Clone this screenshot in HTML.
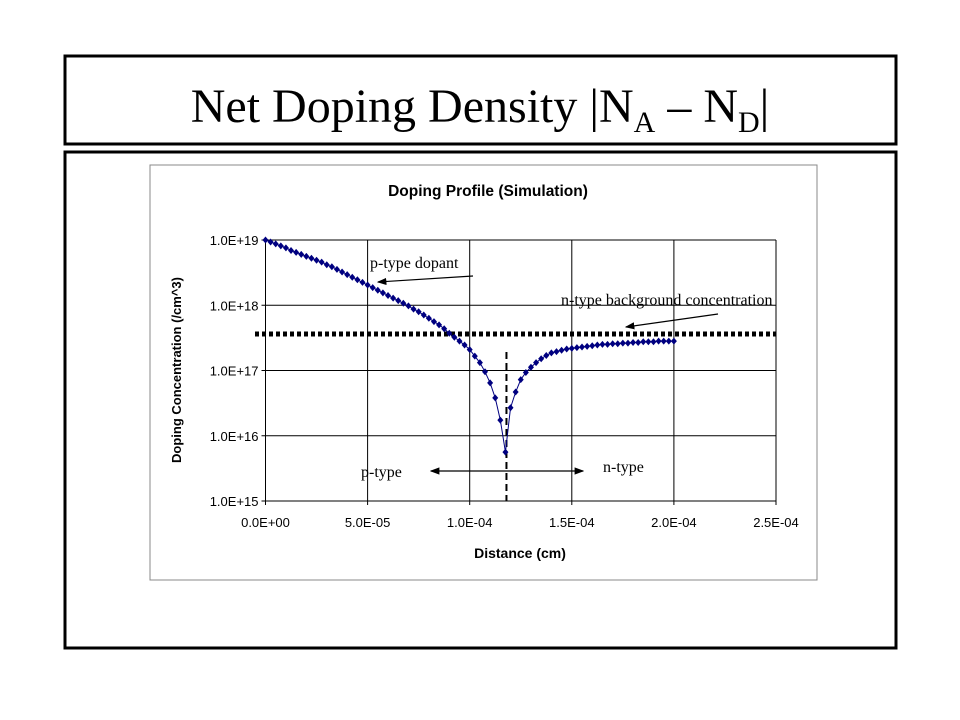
<!DOCTYPE html>
<html><head><meta charset="utf-8"><style>
body{margin:0;background:#fff;}
svg{display:block;}
.tk{font-family:"Liberation Sans",sans-serif;font-size:13px;fill:#000;}
.ann{font-family:"Liberation Serif",serif;font-size:16px;fill:#000;}
</style></head><body>
<svg id="slide" width="960" height="720" viewBox="0 0 960 720" xmlns="http://www.w3.org/2000/svg">
<defs><marker id="ah" markerWidth="8" markerHeight="8" refX="7" refY="4" orient="auto"><path d="M0,1 L8,4 L0,7 Z" fill="#000"/></marker></defs>
<rect x="65" y="56" width="831" height="88" fill="none" stroke="#000" stroke-width="3"/>
<text x="480" y="122" text-anchor="middle" font-family="Liberation Serif,serif" font-size="48">Net Doping Density |N<tspan font-size="30" dy="10">A</tspan><tspan dy="-10"> – N</tspan><tspan font-size="30" dy="10">D</tspan><tspan dy="-10">|</tspan></text>
<rect x="65" y="152" width="831" height="496" fill="none" stroke="#000" stroke-width="3"/>
<rect x="150" y="165" width="667" height="415" fill="#fff" stroke="#888" stroke-width="1"/>
<text x="488" y="196" text-anchor="middle" font-family="Liberation Sans,sans-serif" font-weight="bold" font-size="15.5">Doping Profile (Simulation)</text>
<text x="520" y="558" text-anchor="middle" font-family="Liberation Sans,sans-serif" font-weight="bold" font-size="14">Distance (cm)</text>
<text transform="translate(181,370) rotate(-90)" text-anchor="middle" font-family="Liberation Sans,sans-serif" font-weight="bold" font-size="13">Doping Concentration (/cm^3)</text>
<g id="grid"></g>
<g id="series"></g>
<g id="ann"></g>
</svg>
<script>
const xTicks=[0,5e-5,1e-4,1.5e-4,2e-4,2.5e-4];
const xTickLabels=["0.0E+00","5.0E-05","1.0E-04","1.5E-04","2.0E-04","2.5E-04"];
const yTicks=[15,16,17,18,19];
const yTickLabels=["1.0E+15","1.0E+16","1.0E+17","1.0E+18","1.0E+19"];
const distance=[0,2.5,5,7.5,10,12.5,15,17.5,20,22.5,25,27.5,30,32.5,35,37.5,40,42.5,45,47.5,50,52.5,55,57.5,60,62.5,65,67.5,70,72.5,75,77.5,80,82.5,85,87.5,90,92.5,95,97.5,100,102.5,105,107.5,110,112.5,115,117.5,120,122.5,125,127.5,130,132.5,135,137.5,140,142.5,145,147.5,150,152.5,155,157.5,160,162.5,165,167.5,170,172.5,175,177.5,180,182.5,185,187.5,190,192.5,195,197.5,200];
const logConc=[19.00,18.97,18.94,18.91,18.88,18.84,18.81,18.78,18.75,18.72,18.69,18.66,18.62,18.59,18.55,18.51,18.47,18.43,18.39,18.35,18.31,18.27,18.23,18.19,18.15,18.11,18.07,18.03,17.99,17.94,17.90,17.85,17.80,17.75,17.70,17.64,17.57,17.51,17.45,17.39,17.32,17.22,17.12,16.98,16.81,16.58,16.24,15.75,16.43,16.67,16.86,16.97,17.05,17.12,17.18,17.23,17.27,17.29,17.31,17.33,17.34,17.35,17.36,17.37,17.38,17.39,17.40,17.40,17.41,17.41,17.42,17.42,17.43,17.43,17.44,17.44,17.44,17.45,17.45,17.45,17.45];
const backgroundLog=[17.56];
const junction=[1.18e-4];
const NS="http://www.w3.org/2000/svg";
const X0=265.5,X1=776,Y0=501,Y1=240;
const xs=v=>X0+(v/2.5e-4)*(X1-X0);
const ys=l=>Y0-(l-15)/4*(Y0-Y1);
function mk(t,a,p){const e=document.createElementNS(NS,t);for(const k in a)e.setAttribute(k,a[k]);p.appendChild(e);return e;}
const grid=document.getElementById('grid'),ser=document.getElementById('series'),ann=document.getElementById('ann');
yTicks.forEach((t,i)=>{
 const l=mk('line',{x1:X0-4,x2:X1,y1:ys(t),y2:ys(t),stroke:'#000','stroke-width':1},grid);
 
 
 const tx=mk('text',{x:X0-7,y:ys(t)+5,'text-anchor':'end',class:'tk'},grid);tx.textContent=yTickLabels[i];
 
 
});
xTicks.forEach((t,i)=>{
 const l=mk('line',{x1:xs(t),x2:xs(t),y1:Y1,y2:Y0+4,stroke:'#000','stroke-width':1},grid);
 
 
 const tx=mk('text',{x:xs(t),y:Y0+26,'text-anchor':'middle',class:'tk'},grid);tx.textContent=xTickLabels[i];
 
 
});
const bg=mk('line',{x1:255,x2:776,y1:ys(backgroundLog[0]),y2:ys(backgroundLog[0]),stroke:'#000','stroke-width':5,'stroke-dasharray':'4 3'},ser);


const jl=mk('line',{x1:xs(junction[0]),x2:xs(junction[0]),y1:352,y2:Y0,stroke:'#000','stroke-width':2,'stroke-dasharray':'7 4'},ser);


const pts=distance.map((d,i)=>[xs(d*1e-6),ys(logConc[i])]);
const pl=mk('polyline',{points:pts.map(p=>p.join(',')).join(' '),fill:'none',stroke:'#000080','stroke-width':1},ser);


pts.forEach(p=>{
 const m=mk('path',{d:`M${p[0]},${p[1]-3.5}L${p[0]+3},${p[1]}L${p[0]},${p[1]+3.5}L${p[0]-3},${p[1]}Z`,fill:'#000080'},ser);
 
 
});
function label(x,y,t,n){const e=mk('text',{x:x,y:y,class:'ann'},ann);e.textContent=t;}
label(370,268,'p-type dopant','p-type-dopant-label');
label(561,305,'n-type background concentration','n-type-background-label');
label(361,477,'p-type','p-type-label');
label(603,472,'n-type','n-type-label');
function arrow(x1,y1,x2,y2,n){const a=mk('line',{x1:x1,y1:y1,x2:x2,y2:y2,stroke:'#000','stroke-width':1.2,'marker-end':'url(#ah)'},ann);}
arrow(473,276,378,282,'p-type-dopant-arrow');
arrow(718,314,626,327,'background-arrow');
arrow(508,471,431,471,'p-type-arrow');
arrow(508,471,583,471,'n-type-arrow');
</script>
</body></html>
